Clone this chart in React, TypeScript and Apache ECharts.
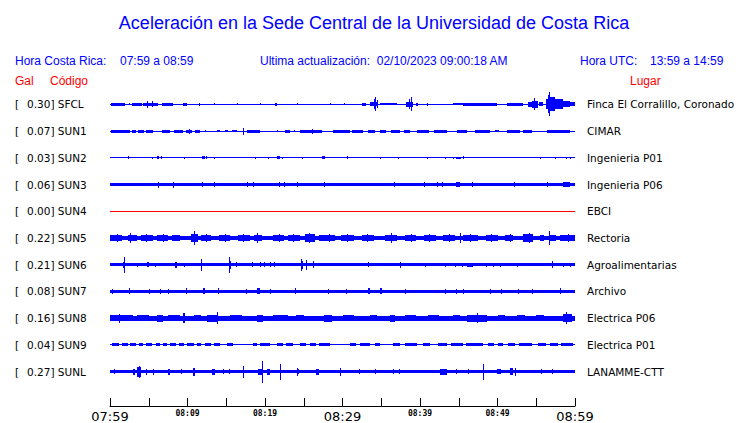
import React, { useEffect, useRef } from 'react';
import * as echarts from 'echarts';

// ---------- data ----------
const stations = ['SFCL', 'SUN1', 'SUN2', 'SUN3', 'SUN4', 'SUN5', 'SUN6', 'SUN7', 'SUN8', 'SUN9', 'SUNL'];
const gals = ['0.30', '0.07', '0.03', '0.06', '0.00', '0.22', '0.21', '0.08', '0.16', '0.04', '0.27'];
const places = [
  'Finca El Corralillo, Coronado', 'CIMAR', 'Ingenieria P01', 'Ingenieria P06', 'EBCI', 'Rectoria',
  'Agroalimentarias', 'Archivo', 'Electrica P06', 'Electrica P01', 'LANAMME-CTT',
];
const traceColors = ['#0000ff', '#0000ff', '#0000ff', '#0000ff', '#ff0000', '#0000ff', '#0000ff', '#0000ff', '#0000ff', '#0000ff', '#0000ff'];
// half thickness of the continuous noise band of each trace (px-equivalent units)
const baseHalf = [0.5, 0.5, 0.5, 1.7, 0.5, 2.5, 1.7, 1.7, 2.5, 0.5, 1.7];
// time axis: minutes after 07:59
const tickLabels = ['07:59', '', '08:09', '', '08:19', '', '08:29', '', '08:39', '', '08:49', '', '08:59'];

// envelope pieces per trace: [tStart, tEnd, halfAmp] or single spike [t, halfAmp]
const sfcl = [[0.1, 1.9, 1.5], [2.4, 2.6, 1], [2.9, 4.1, 1.8], [4.2, 6.2, 1.5], [4.75, 3.5], [5.4, 3], [6.7, 8.1, 1.5], [9.4, 9.9, 1.5], [11.45, 1.2], [13.4, 1], [16.4, 1], [19.3, 1], [21.3, 21.5, 1.2], [24.1, 1], [28.4, 1], [30.2, 1],
  [32.5, 33, 1.2], [33.5, 34.6, 2], [34.0, 5], [34.2, 7], [34.4, 4], [34.8, 37, 1], [38.2, 39.1, 2.5], [38.6, 5], [38.8, 7], [39.5, 39.7, 1.2], [40.9, 1.2], [44.2, 45.5, 1], [45.5, 49.9, 1.3], [51.2, 53.3, 1.2],
  [53.9, 54.4, 2.5], [54.4, 55.2, 3.5], [54.7, 6], [55.3, 55.9, 2], [56.2, 56.5, 5], [56.5, 56.8, 9], [56.65, 12], [56.8, 57.4, 7], [57.4, 58.4, 5], [58.4, 59.4, 3], [59.4, 60, 2]];
const sun1 = [[0.1, 2.6, 1.5], [2.8, 3.4, 1.5], [3.6, 4.4, 1.5], [4.6, 5.5, 1.5], [6.7, 7.7, 1.5], [8.3, 9.4, 1.5], [9.8, 10.6, 1.5], [10.2, 2.5], [11, 11.6, 1.5], [12.3, 1.2], [13.8, 14.2, 1.2], [14.8, 15.2, 1.2], [15.8, 16.4, 1.2], [17.2, 3.5], [17.7, 19.4, 1.5], [21.6, 1.2], [22.6, 23.2, 1.5], [23.8, 1.2], [24.5, 27.4, 1.5], [26.1, 2.5], [28.8, 31, 1.5],
  [31.2, 32.6, 1.5], [33.3, 34.2, 1.5], [34.8, 35.6, 1.5], [36.2, 37.4, 1.5], [37.9, 38.7, 1.5], [39.6, 41.2, 1.5], [41.8, 43.5, 1.5], [44.8, 46.1, 1.5], [47.1, 49, 1.5], [49.7, 50.2, 1.2], [51.2, 52.9, 1.5], [53.3, 54.5, 1.5], [56.4, 59.4, 1.5]];
const sun2 = [[2.3, 1.5], [5.4, 1.2], [6.1, 6.3, 1.5], [6.6, 1.5], [9.5, 1.2], [11.9, 12.2, 1.5], [12.4, 1.5], [13.4, 1.2], [18.7, 1.2], [20.4, 1.2], [21.5, 21.9, 1.5], [22.2, 1.2], [24.8, 1.2], [27.4, 27.7, 1.5], [30.6, 1.5],
  [34.8, 1.2], [37.2, 1.2], [40.9, 1.2], [43.2, 1.2], [44.2, 1.2], [44.6, 45.3, 1.2], [45.6, 1.5], [55.5, 1.2], [57.4, 1.2], [58.8, 1.2], [59.3, 1.2]];
const sun3 = [[6.2, 3], [8.1, 3], [11.9, 2.5], [13.4, 2.5], [17.7, 2.5], [18.5, 2.5], [21.8, 2.5], [22.4, 2.5], [24.1, 2.5], [27.6, 2.5], [36.6, 2.5], [40.5, 2.5], [42.2, 2.5], [42.8, 2.5], [44.6, 45.2, 2.5], [46.7, 2.5], [52.1, 2.5], [56.4, 2.5], [58.5, 59.4, 2.5]];
const sun4: number[][] = [];
const sun5 = [[0, 1.5, 3.2], [0.9, 4.5], [2.3, 3.5, 3.5], [2.6, 5], [4, 5.5, 3.2], [4.7, 4.5], [6, 7.5, 3.2], [6.8, 4.5], [8, 9, 3.2], [10.5, 11.3, 4], [10.8, 7], [11.8, 13, 3.2], [12.4, 4.5], [14, 15.5, 3.2], [14.9, 4.5], [16.5, 18, 3.2], [17.2, 4.5], [18.6, 19.6, 3.5], [19, 5], [21, 22.5, 3.2], [21.8, 4.5], [23, 24.5, 3.2], [23.6, 4.5], [25.2, 26.5, 4], [25.7, 5.5], [27, 29, 3.2], [28.2, 4.5], [29.8, 31.5, 3.2], [30.6, 4.5],
  [32.5, 34, 3.2], [33.1, 4.5], [35.5, 37, 3.5], [36.3, 5], [38, 39.5, 3.2], [38.9, 4.5], [40.5, 42, 3.2], [41.2, 4.5], [43, 44.5, 3.2], [43.8, 4.5], [45.2, 5.5], [45.5, 47.5, 3.2], [46.5, 4.5], [48.5, 50, 3.2], [49.2, 4.5], [51, 52, 3.2], [51.6, 4.5], [53.3, 54.6, 4], [54, 5], [55.5, 56, 3.2], [56.6, 7.5], [56.8, 57.5, 3.5], [58, 60, 3.2], [59.1, 4.5]];
const sun6 = [[1.8, 8], [1.7, 1.9, 3], [3.5, 2], [4.8, 5.0, 2.5], [5.8, 2], [8.4, 8.6, 3], [9.5, 2], [11.7, 6], [15.3, 15.6, 4], [15.4, 8], [16.2, 2.5], [18.3, 2.5], [19.4, 2.5], [19.9, 2.5], [20.6, 2.5], [21.2, 2.5], [24.6, 6], [24.8, 4], [25.3, 5], [26.2, 3.5],
  [33.3, 2.5], [37.4, 3], [40.7, 2], [43.2, 2], [44.5, 2], [45.4, 2], [46.1, 46.8, 2], [48.5, 2], [49.4, 2], [50.3, 2], [52.5, 2], [57, 3.5], [58.5, 2], [59.4, 2]];
const sun7 = [[0.3, 2.5], [2.5, 3], [5, 2.5], [6.4, 2.5], [7.5, 2.5], [9.8, 3], [12, 12.3, 3], [13.9, 3], [17.5, 2.5], [19, 19.4, 3], [20.7, 2.5], [23.9, 3], [28.1, 2.5], [30.5, 2.5],
  [33.3, 33.5, 3], [34.8, 35.1, 3], [38.1, 2.5], [43.2, 2.5], [44.7, 2.5], [45.5, 2.5], [49.0, 2.5], [50.5, 2.5], [52.7, 2.5], [54.5, 2.5], [58.1, 3]];
const sun8 = [[0, 3, 3.2], [1.2, 4.5], [3.5, 5, 3], [6.1, 6.9, 3.5], [7.5, 9, 3], [9.4, 9.7, 5], [10.8, 11.8, 3.2], [12.5, 13.9, 3.5], [13.8, 6], [15.5, 17, 3], [19, 19.8, 3.5], [21, 23, 3], [24, 25, 3], [27.6, 28.6, 3.5], [30, 31.5, 3],
  [33.5, 34.5, 3.2], [36.1, 36.8, 3.5], [38, 39.5, 3], [41, 42.5, 3], [44.3, 45.2, 3.2], [46.1, 48.6, 3.5], [47.3, 5], [50, 51, 3], [52.5, 53.5, 3.2], [55, 56, 3], [58.5, 59.6, 4], [58.8, 6]];
const sun9 = [[0.2, 1.2, 1.5], [1.5, 2.3, 1.5], [2.6, 3.4, 1.5], [3.7, 4.2, 1.5], [4.6, 5.4, 1.5], [5.9, 6.5, 1.5], [6.9, 7.3, 1.5], [7.7, 8.5, 1.5], [8.9, 9.5, 1.5], [9.9, 10.8, 1.5], [11.2, 11.8, 1.5], [12.3, 13.0, 1.5], [13.4, 14.2, 1.5], [15.1, 15.9, 1.5], [18.5, 19, 1.5], [19.4, 20.6, 1.5], [21.5, 22.3, 1.5], [22.7, 23.6, 1.5], [24.5, 25.3, 1.5], [25.8, 26.6, 1.5], [27, 28.4, 1.5],
  [31, 31.8, 1.5], [32.3, 33.5, 1.5], [34.2, 34.8, 1.5], [36.5, 37.4, 1.5], [38, 39.6, 1.5], [40.4, 41.3, 1.5], [42.3, 43.5, 1.5], [44, 45.5, 1.5], [45.9, 48.1, 1.5], [48.8, 49.6, 1.5], [50, 50.7, 1.5], [51.4, 52.3, 1.5], [52.8, 54.5, 1.5], [55.2, 56.2, 1.5], [56.8, 57.8, 1.5], [58.2, 59.7, 1.5]];
const sunl = [[0.5, 2.5], [3, 3.2, 3], [3.5, 4, 5], [3.8, 6], [4.6, 3], [5.5, 3], [7.6, 2.5], [7.5, 7.8, 3], [9.2, 2.5], [10.7, 11, 4], [13.2, 13.6, 3], [14.6, 2.5], [15.4, 2.5], [17.2, 6], [19.1, 19.7, 3], [19.6, 11], [20.2, 20.6, 3], [21.9, 8], [24.1, 4], [24.2, 2.5], [26.6, 27.0, 3], [29.7, 4],
  [32.1, 2.5], [34.2, 2.5], [36.5, 2.5], [37.3, 2.5], [42.6, 43.5, 3], [44.6, 2.5], [46.2, 2.5], [48.1, 8], [49.9, 50.5, 2.5], [51.6, 52.0, 3.5], [52.2, 4], [55.6, 2.5], [57, 2.5]];
const envelopes = [sfcl, sun1, sun2, sun3, sun4, sun5, sun6, sun7, sun8, sun9, sunl];

const ROW = 27;
const Y_MAX = ROW * stations.length;

export default function App() {
  const ref = useRef<HTMLDivElement>(null);
  useEffect(() => {
    if (!ref.current) return;
    const chart = echarts.init(ref.current, undefined, { renderer: 'svg' });

    const traceData: number[][] = [];
    envelopes.forEach((env, row) => {
      traceData.push([0, 60, row, baseHalf[row]]);
      env.forEach((e) => {
        if (e.length === 2) traceData.push([e[0], e[0], row, e[1]]);
        else traceData.push([e[0], e[1], row, e[2]]);
      });
    });
    const labelData = stations.map((_, i) => [0, i]);

    chart.setOption({
      animation: false,
      grid: { left: 110, right: 165, top: 91, height: Y_MAX },
      xAxis: {
        type: 'value', min: 0, max: 60, interval: 5, offset: 21, position: 'bottom',
        axisLine: { onZero: false, lineStyle: { color: '#000', width: 1 } },
        axisTick: { inside: true, length: 8, lineStyle: { color: '#000' } },
        splitLine: { show: false },
        axisLabel: {
          showMinLabel: true, showMaxLabel: true, margin: 3,
          formatter: (v: number) => {
            const s = tickLabels[Math.round(v / 5)] || '';
            if (!s) return '';
            return v % 30 === 0 ? '{big|' + s + '}' : '{small|' + s + '}';
          },
          rich: {
            big: { fontFamily: 'DejaVu Sans', fontSize: 13, color: '#000', padding: [1, 0, 0, 0] },
            small: { fontFamily: 'DejaVu Sans Mono', fontSize: 8, fontWeight: 'bold', color: '#000' },
          },
        },
      },
      yAxis: { type: 'value', min: 0, max: Y_MAX, inverse: true, show: false },
      series: [
        {
          type: 'custom',
          clip: false,
          data: traceData,
          renderItem: (params: any, api: any) => {
            const t1 = api.value(0), t2 = api.value(1), row = api.value(2), h = api.value(3);
            const yc = ROW / 2 + ROW * row;
            const p1 = api.coord([t1, yc - h]);
            const p2 = api.coord([t2, yc + h]);
            const x1 = Math.round(p1[0]);
            const x2 = Math.max(x1 + 1, Math.round(p2[0]));
            const y1 = Math.round(p1[1]);
            const y2 = Math.max(y1 + 1, Math.round(p2[1]));
            return {
              type: 'rect',
              shape: { x: x1, y: y1, width: x2 - x1, height: y2 - y1 },
              style: { fill: traceColors[row] },
            };
          },
        },
        {
          type: 'custom',
          clip: false,
          data: labelData,
          renderItem: (params: any, api: any) => {
            const row = api.value(1);
            const p = api.coord([0, ROW / 2 + ROW * row]);
            const y = Math.round(p[1]);
            const font = '10.5px "DejaVu Sans"';
            return {
              type: 'group',
              children: [
                { type: 'text', x: 15, y, style: { text: '[', font, fill: '#000', textVerticalAlign: 'middle' } },
                { type: 'text', x: 27, y, style: { text: gals[row] + '] ' + stations[row], font, fill: '#000', textVerticalAlign: 'middle' } },
                { type: 'text', x: 587, y, style: { text: places[row], font, fill: '#000', textVerticalAlign: 'middle' } },
              ],
            };
          },
        },
      ],
      graphic: [
        { type: 'text', x: 374, y: 23, style: { text: 'Aceleración en la Sede Central de la Universidad de Costa Rica', font: '18px "Liberation Sans"', fill: '#0000ff', textAlign: 'center', textVerticalAlign: 'middle' } },
        { type: 'text', x: 15, y: 61, style: { text: 'Hora Costa Rica:', font: '12px "Liberation Sans"', fill: '#0000ff', textVerticalAlign: 'middle' } },
        { type: 'text', x: 120, y: 61, style: { text: '07:59 a 08:59', font: '12px "Liberation Sans"', fill: '#0000ff', textVerticalAlign: 'middle' } },
        { type: 'text', x: 260, y: 61, style: { text: 'Ultima actualización:  02/10/2023 09:00:18 AM', font: '12px "Liberation Sans"', fill: '#0000ff', textVerticalAlign: 'middle' } },
        { type: 'text', x: 580, y: 61, style: { text: 'Hora UTC:', font: '12px "Liberation Sans"', fill: '#0000ff', textVerticalAlign: 'middle' } },
        { type: 'text', x: 650, y: 61, style: { text: '13:59 a 14:59', font: '12px "Liberation Sans"', fill: '#0000ff', textVerticalAlign: 'middle' } },
        { type: 'text', x: 15, y: 81, style: { text: 'Gal', font: '12px "Liberation Sans"', fill: '#ff0000', textVerticalAlign: 'middle' } },
        { type: 'text', x: 50, y: 81, style: { text: 'Código', font: '12px "Liberation Sans"', fill: '#ff0000', textVerticalAlign: 'middle' } },
        { type: 'text', x: 630, y: 81, style: { text: 'Lugar', font: '12px "Liberation Sans"', fill: '#ff0000', textVerticalAlign: 'middle' } },
      ],
    });
    return () => chart.dispose();
  }, []);
  return <div ref={ref} style={{ width: 740, height: 423, position: 'absolute', left: 0, top: 0, background: '#fff' }} />;
}
